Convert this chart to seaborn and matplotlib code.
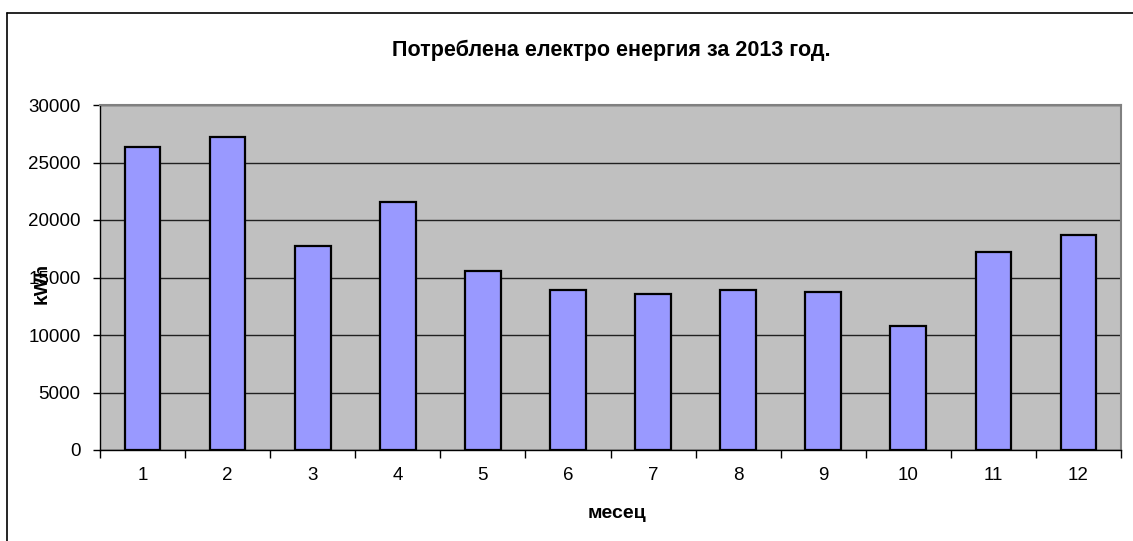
import matplotlib
matplotlib.use("Agg")
import matplotlib.pyplot as plt
from matplotlib.lines import Line2D
from matplotlib.ticker import FixedLocator, MultipleLocator
import seaborn as sns
import numpy as np
import pandas as pd

# Monthly electricity consumption, kWh
months = ["1", "2", "3", "4", "5", "6", "7", "8", "9", "10", "11", "12"]
consumption = [26350, 27200, 17700, 21600, 15550, 13950, 13600, 13950, 13750, 10800, 17200, 18700]

title = "Потреблена електро енергия за 2013 год."
x_label = "месец"
y_label = "kWh"

sns.set_theme(style="white")
plt.rcParams["font.family"] = ["Liberation Sans", "DejaVu Sans"]
plt.rcParams["text.color"] = "black"
plt.rcParams["xtick.color"] = "black"
plt.rcParams["ytick.color"] = "black"

df = pd.DataFrame({"month": months, "kwh": consumption})

fig = plt.figure(figsize=(11.33, 5.41), dpi=100)
fig.patch.set_facecolor("white")
ax = fig.add_axes([100 / 1133, 91 / 541, 1021 / 1133, 345 / 541])
ax.set_facecolor("#C0C0C0")

sns.barplot(data=df, x="month", y="kwh", order=months, color="#9999FF",
            saturation=1, edgecolor="black", linewidth=1.6, width=0.42, ax=ax)

ax.set_xlim(-0.5, len(months) - 0.5)
ax.set_ylim(0, 30000)
ax.yaxis.set_major_locator(MultipleLocator(5000))
ax.grid(axis="y", color="#202020", linewidth=1.0)
ax.set_axisbelow(True)

# category tick marks sit between bars
ax.xaxis.set_minor_locator(FixedLocator(np.arange(-0.5, len(months), 1.0)))
ax.tick_params(axis="x", which="major", length=0, pad=12, labelsize=13.5, colors="black")
ax.tick_params(axis="x", which="minor", length=6, width=1, color="black", direction="out", bottom=True)
ax.tick_params(axis="y", which="major", length=5, width=1, color="black", direction="out",
               left=True, pad=9, labelsize=13.5, labelcolor="black")

for side in ["left", "bottom"]:
    ax.spines[side].set_color("black")
    ax.spines[side].set_linewidth(1.0)
for side in ["top", "right"]:
    ax.spines[side].set_visible(True)
    ax.spines[side].set_color("#808080")
    ax.spines[side].set_linewidth(1.5)

ax.set_xlabel("")
ax.set_ylabel("")

fig.text(611 / 1133, 1 - 50 / 541, title, ha="center", va="center",
         fontsize=15.5, fontweight="bold", color="black")
fig.text(617 / 1133, 1 - 513 / 541, x_label, ha="center", va="center",
         fontsize=14, fontweight="bold", color="black")
fig.text(42 / 1133, 1 - 283 / 541, y_label, ha="center", va="center",
         fontsize=14, fontweight="bold", rotation=90, color="black")

# chart frame lines along the top and left edges
fig.add_artist(Line2D([7 / 1133, 1.0], [1 - 13 / 541, 1 - 13 / 541],
                      transform=fig.transFigure, color="black", linewidth=1.2))
fig.add_artist(Line2D([7 / 1133, 7 / 1133], [0.0, 1 - 13 / 541],
                      transform=fig.transFigure, color="black", linewidth=1.2))

fig.savefig("out.png", dpi=100)
